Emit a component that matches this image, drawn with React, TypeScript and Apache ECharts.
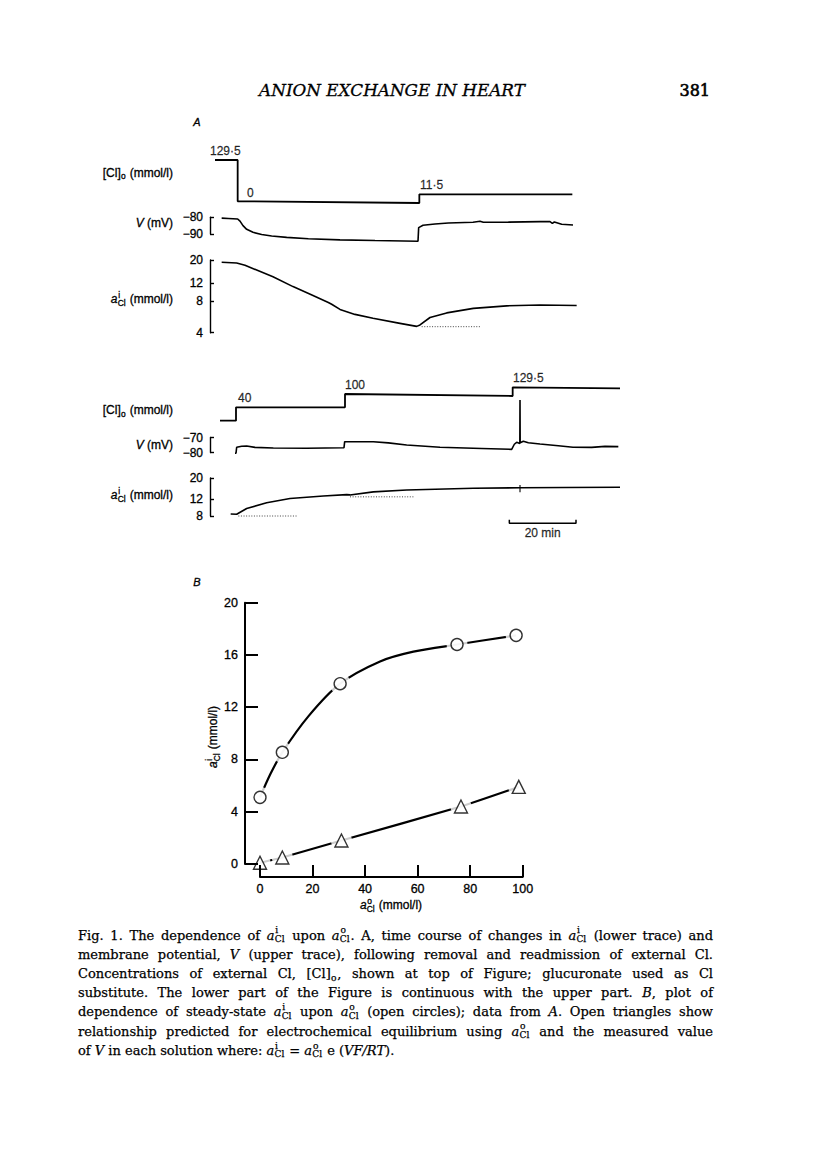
import React, { useEffect, useRef } from 'react';
import * as echarts from 'echarts';

const INK = '#000';
const SANS = "'Liberation Sans', Arial, Helvetica, sans-serif";
const SERIF = "'DejaVu Serif', 'Liberation Serif', serif";

// ---------- Panel A, upper part (x: time in min; Cl trace in recorder units) ----------
const clUpperTrace = [[0, 43], [6.8, 43], [6.8, 1.7], [61.3, 0], [61.3, 8.7], [107.2, 8.7]];
const clUpperLabels: [number, number, string][] = [[-1.5, 43, '129·5'], [9.6, 1.5, '0'], [61.5, 8.7, '11·5']];
const vUpper = [
  [2.0, -80.5], [4, -80.7], [6.8, -81.0], [7.5, -82.3], [8.4, -85.0], [9.5, -87.2], [11.4, -89.0],
  [14, -90.3], [17, -91.2], [21.5, -92.0], [28, -92.8], [37.5, -93.5], [48, -93.9], [60.9, -94.3],
  [61.1, -86.2], [62.4, -84.8], [66, -84.0], [70, -83.4], [77.4, -83.0], [79.5, -82.4], [80.5, -83.0],
  [88, -82.9], [97.5, -82.6], [100.5, -82.6], [101.2, -83.6], [101.8, -82.8], [104, -84.2], [107.4, -84.6],
];
const aiUpper = [
  [2.0, 19.0], [6.5, 18.7], [9, 17.8], [12.5, 16.0], [17.4, 13.8], [23.4, 11.1], [29.4, 9.1], [34.0, 7.8],
  [35, 7.5], [37.5, 6.7], [42, 6.0], [47.4, 5.5], [55.5, 4.92], [60.5, 4.6], [61.5, 4.75], [64.5, 5.6],
  [69.5, 6.2], [77.5, 6.85], [87.5, 7.25], [97.5, 7.38], [108.5, 7.3],
];
const aiUpperDotted = [[62, 4.57], [79.5, 4.57]];

// ---------- Panel A, lower part ----------
const clLowerTrace = [[1.5, 8.5], [6.3, 8.5], [6.3, 21.9], [39, 21.9], [39, 35.2], [89.3, 33.2], [89.3, 41.9], [121.5, 40.9]];
const clLowerLabels: [number, number, string][] = [[6.9, 21.9, '40'], [39, 35.2, '100'], [89.4, 41.9, '129·5']];
const vLower = [
  [6.0, -80.5], [6.3, -80.5], [6.5, -76.5], [8, -75.8], [9.5, -75.7], [12, -76.6], [17.5, -77.0], [27.5, -77.2],
  [38.7, -76.8], [38.9, -72.8], [47.5, -72.8], [52, -73.6], [57.5, -75.0], [67.5, -76.5], [80, -77.3], [89, -77.9],
  [89.8, -74.5], [90.5, -73.2], [91.45, -74.0], [91.5, -45], [91.55, -73.5], [92.5, -72.5], [94, -73.5],
  [97.5, -74.3], [103, -75.5], [107.4, -76.5], [113, -76.6], [117, -75.9], [121, -76.1],
];
const aiLower = [
  [4.7, 8.4], [6.5, 8.35], [9.5, 9.6], [15.5, 11.0], [22.5, 12.2], [32.5, 12.95], [39.5, 13.4], [40.5, 13.3],
  [47.5, 14.3], [57.5, 14.95], [77.5, 15.6], [91.5, 15.8], [105, 15.9], [121.5, 16.0],
];
const aiLowerMark = [[91.5, 16.9], [91.5, 14.2]];
const aiLowerDotted1 = [[7.0, 8.0], [24.7, 8.0]];
const aiLowerDotted2 = [[40.5, 12.7], [59.7, 12.7]];
const scaleBarStart = 88.3;
const scaleBarMinutes = 20;

// axis tick values
const vUpperRange = [-90, -80];
const vLowerRange = [-80, -70];
const aiUpperTicks = [4, 8, 12, 20];
const aiLowerTicks = [8, 12, 20];

// ---------- Panel B ----------
const circX = [0, 8.5, 30.5, 75, 97.5];
const circY = [5.1, 8.55, 13.8, 16.8, 17.5];
// hand-drawn curve through the circles, read along its length
const circCurveX = [0, 4, 8.5, 18.4, 30.5, 45.7, 58.4, 75, 97.5];
const circCurveY = [5.1, 6.9, 8.55, 11.3, 13.8, 15.5, 16.25, 16.8, 17.5];
const triX = [0, 8.5, 31, 76.5, 98.5];
const triY = [0.1, 0.5, 1.8, 4.4, 5.9];
const bXTicks = [0, 100, 20];
const bYTicks = [0, 20, 4];

type Seg = { t?: string; it?: boolean; sup?: string; sub?: string };
const AI: Seg[] = [{ t: 'a', it: true }, { sup: 'i', sub: 'Cl' }];
const AO: Seg[] = [{ t: 'a', it: true }, { sup: 'o', sub: 'Cl' }];

const captionLines: Seg[][] = [
  [{ t: 'Fig. 1. The dependence of ' }, ...AI, { t: ' upon ' }, ...AO, { t: '. A, time course of changes in ' }, ...AI, { t: ' (lower trace) and' }],
  [{ t: 'membrane potential, ' }, { t: 'V', it: true }, { t: ' (upper trace), following removal and readmission of external Cl.' }],
  [{ t: 'Concentrations of external Cl, [Cl]' }, { sub: 'o' }, { t: ', shown at top of Figure; glucuronate used as Cl' }],
  [{ t: 'substitute. The lower part of the Figure is continuous with the upper part. ' }, { t: 'B', it: true }, { t: ', plot of' }],
  [{ t: 'dependence of steady-state ' }, ...AI, { t: ' upon ' }, ...AO, { t: ' (open circles); data from ' }, { t: 'A', it: true }, { t: '. Open triangles show' }],
  [{ t: 'relationship predicted for electrochemical equilibrium using ' }, ...AO, { t: ' and the measured value' }],
  [{ t: 'of ' }, { t: 'V', it: true }, { t: ' in each solution where: ' }, ...AI, { t: ' = ' }, ...AO, { t: ' e (' }, { t: 'VF/RT', it: true }, { t: ').' }],
];

let ctx: CanvasRenderingContext2D | null = null;
function measure(text: string, size: number, family: string, italic: boolean, weight = 'normal') {
  if (!ctx) ctx = document.createElement('canvas').getContext('2d');
  ctx!.font = `${italic ? 'italic ' : ''}${weight} ${size}px ${family}`;
  return ctx!.measureText(text).width;
}

function inline(segs: Seg[], o: { x: number; y: number; align?: 'left' | 'right' | 'center'; family: string; size: number; justify?: number; weight?: string; stroke?: number }) {
  const size = o.size;
  const small = size * 0.7;
  const w = o.weight || 'normal';
  const toks: { parts: { text: string; dx: number; dy: number; size: number; it: boolean }[]; adv: number; space: boolean }[] = [];
  for (const s of segs) {
    if (s.t !== undefined) {
      for (const chunk of s.t.split(/( )/)) {
        if (!chunk) continue;
        if (chunk === ' ') toks.push({ parts: [], adv: measure(' ', size, o.family, !!s.it, w), space: true });
        else toks.push({ parts: [{ text: chunk, dx: 0, dy: 0, size, it: !!s.it }], adv: measure(chunk, size, o.family, !!s.it, w), space: false });
      }
    } else {
      const parts: any[] = [];
      let adv = 0;
      if (s.sup) { parts.push({ text: s.sup, dx: size * 0.06, dy: -size * 0.36, size: small, it: false }); adv = Math.max(adv, measure(s.sup, small, o.family, false, w)); }
      if (s.sub) { parts.push({ text: s.sub, dx: size * 0.02, dy: size * 0.32, size: small, it: false }); adv = Math.max(adv, measure(s.sub, small, o.family, false, w)); }
      toks.push({ parts, adv: adv + size * 0.08, space: false });
    }
  }
  const total = toks.reduce((a, t) => a + t.adv, 0);
  const nSpaces = toks.filter((t) => t.space).length;
  let extra = 0;
  let width = total;
  if (o.justify && nSpaces > 0) { extra = (o.justify - total) / nSpaces; width = o.justify; }
  let x = o.align === 'right' ? o.x - width : o.align === 'center' ? o.x - width / 2 : o.x;
  const els: any[] = [];
  for (const t of toks) {
    for (const p of t.parts) {
      els.push({
        type: 'text', x: x + p.dx, y: o.y + p.dy, silent: true,
        style: {
          text: p.text, fontSize: p.size, fontFamily: o.family, fontStyle: p.it ? 'italic' : 'normal', fontWeight: w,
          fill: INK, stroke: INK, lineWidth: o.stroke ?? 0.3,
          textAlign: 'left', align: 'left', textVerticalAlign: 'middle', verticalAlign: 'middle',
        },
      });
    }
    x += t.adv + (t.space ? extra : 0);
  }
  return els;
}

const log = (v: number) => Math.log10(v);
const logPts = (arr: number[][]) => arr.map(([t, v]) => [t, log(v)]);

export default function App() {
  const ref = useRef<HTMLDivElement>(null);
  useEffect(() => {
    if (!ref.current) return;
    const chart = echarts.init(ref.current, undefined, { renderer: 'svg' });

    const A_LEFT = 215;
    const A_W = 416.67;
    const grids = [
      { left: A_LEFT, width: A_W, top: 153, height: 50 },
      { left: A_LEFT, width: A_W, top: 217.3, height: 16.7 },
      { left: A_LEFT, width: A_W, top: 260, height: 72.7 },
      { left: A_LEFT, width: A_W, top: 379.2, height: 50 },
      { left: A_LEFT, width: A_W, top: 437.5, height: 15 },
      { left: A_LEFT, width: A_W, top: 478, height: 38 },
      { left: A_LEFT, width: A_W, top: 513.3, height: 10 },
      { left: 260, width: 262.7, top: 602.7, height: 261.3 },
    ];
    const hiddenX = (i: number) => ({ gridIndex: i, type: 'value', min: 0, max: 125, show: false });
    const hiddenY = (i: number, min: number, max: number) => ({ gridIndex: i, type: 'value', min, max, show: false });
    const lbl = { color: INK, fontFamily: SANS, fontSize: 12, textBorderColor: INK, textBorderWidth: 0.3 };
    const bracketAxis = (i: number, min: number, max: number, extra: any) => ({
      gridIndex: i, type: 'value', min, max, position: 'left', offset: 5, z: 5,
      axisLine: { show: true, onZero: false, lineStyle: { color: INK, width: 1.4 } },
      axisTick: { show: true, inside: true, length: 4, lineStyle: { color: INK, width: 1.4 } },
      splitLine: { show: false },
      ...extra,
    });
    const vFmt = (v: number) => (v < 0 ? '\u2212' + Math.abs(v) : String(v));
    const logFmt = (v: number) => String(Math.round(Math.pow(10, v)));

    const xAxes: any[] = [0, 1, 2, 3, 4, 5, 6].map(hiddenX);
    xAxes.push({
      gridIndex: 7, type: 'value', min: bXTicks[0], max: bXTicks[1], interval: bXTicks[2], position: 'bottom', offset: 13, z: 10,
      axisLine: { show: true, onZero: false, lineStyle: { color: INK, width: 2 } },
      axisTick: { show: true, inside: true, length: 12, lineStyle: { color: INK, width: 2 } },
      axisLabel: { ...lbl, fontSize: 12.5, margin: 5 },
      splitLine: { show: false },
    });
    const yAxes: any[] = [
      hiddenY(0, 0, 50),
      bracketAxis(1, vUpperRange[0], vUpperRange[1], { interval: 10, axisLabel: { ...lbl, margin: 7, formatter: vFmt } }),
      bracketAxis(2, log(aiUpperTicks[0]), log(aiUpperTicks[aiUpperTicks.length - 1]), {
        axisTick: { show: true, inside: true, length: 4, lineStyle: { color: INK, width: 1.4 }, customValues: aiUpperTicks.map(log) },
        axisLabel: { ...lbl, margin: 7, formatter: logFmt, customValues: aiUpperTicks.map(log) },
      }),
      hiddenY(3, 0, 50),
      bracketAxis(4, vLowerRange[0], vLowerRange[1], { interval: 10, axisLabel: { ...lbl, margin: 7, formatter: vFmt } }),
      bracketAxis(5, log(aiLowerTicks[0]), log(aiLowerTicks[aiLowerTicks.length - 1]), {
        axisTick: { show: true, inside: true, length: 4, lineStyle: { color: INK, width: 1.4 }, customValues: aiLowerTicks.map(log) },
        axisLabel: { ...lbl, margin: 7, formatter: logFmt, customValues: aiLowerTicks.map(log) },
      }),
      hiddenY(6, 0, 1),
      {
        gridIndex: 7, type: 'value', min: bYTicks[0], max: bYTicks[1], interval: bYTicks[2], position: 'left', offset: 15, z: 10,
        axisLine: { show: true, onZero: false, lineStyle: { color: INK, width: 2 } },
        axisTick: { show: true, inside: true, length: 13, lineStyle: { color: INK, width: 2 } },
        axisLabel: { ...lbl, fontSize: 12.5, margin: 7 },
        splitLine: { show: false },
      },
    ];

    const trace = (i: number, data: number[][], width = 1.6, extra: any = {}) => ({
      type: 'line', xAxisIndex: i, yAxisIndex: i, data, showSymbol: false, symbol: 'none', clip: false, silent: true, z: 2,
      lineStyle: { color: INK, width }, ...extra,
    });
    const dotted = (i: number, data: number[][]) => trace(i, data, 1, { lineStyle: { color: '#444', width: 1, type: [1, 1.6] } });
    const labelsSeries = (i: number, data: [number, number, string][]) => ({
      type: 'scatter', xAxisIndex: i, yAxisIndex: i, data, symbolSize: 0, clip: false, silent: true,
      label: { show: true, position: 'top', distance: 3, align: 'left', formatter: (p: any) => p.value[2], ...lbl },
    });

    const circPts = circX.map((x, k) => [x, circY[k]]);
    const circCurve = circCurveX.map((x, k) => [x, circCurveY[k]]);
    const triPts = triX.map((x, k) => [x, triY[k]]);

    const series: any[] = [
      trace(0, clUpperTrace, 1.8),
      labelsSeries(0, clUpperLabels),
      trace(1, vUpper),
      trace(2, logPts(aiUpper)),
      dotted(2, logPts(aiUpperDotted)),
      trace(3, clLowerTrace, 1.8),
      labelsSeries(3, clLowerLabels),
      trace(4, vLower),
      trace(5, logPts(aiLower)),
      trace(5, logPts(aiLowerMark), 1.1),
      dotted(5, logPts(aiLowerDotted1)),
      dotted(5, logPts(aiLowerDotted2)),
      trace(6, [[scaleBarStart, 0.35], [scaleBarStart, 0], [scaleBarStart + scaleBarMinutes, 0], [scaleBarStart + scaleBarMinutes, 0.35]], 1.5),
      {
        type: 'scatter', xAxisIndex: 6, yAxisIndex: 6, data: [[scaleBarStart + scaleBarMinutes / 2, 0]], symbolSize: 0, clip: false, silent: true,
        label: { show: true, position: 'bottom', distance: 4, formatter: `${scaleBarMinutes} min`, ...lbl },
      },
      trace(7, circCurve, 2.2, { smooth: 0.3 }),
      trace(7, triPts, 2.2, { smooth: 0.15 }),
      {
        type: 'scatter', xAxisIndex: 7, yAxisIndex: 7, data: [...circPts, ...triPts], symbol: 'circle', symbolSize: 21, z: 3,
        itemStyle: { color: '#fff' }, clip: false, silent: true,
      },
      {
        type: 'scatter', xAxisIndex: 7, yAxisIndex: 7, data: circPts, symbol: 'circle', symbolSize: 12, clip: false, silent: true, z: 4,
        itemStyle: { color: '#fff', borderColor: INK, borderWidth: 1.4 },
      },
      {
        type: 'scatter', xAxisIndex: 7, yAxisIndex: 7, data: triPts, symbol: 'triangle', symbolSize: 13, clip: false, silent: true, z: 4,
        itemStyle: { color: '#fff', borderColor: INK, borderWidth: 1.4 },
      },
    ];

    // ---------- text / graphic ----------
    const g: any[] = [];
    const tstyle = (extra: any) => ({ fill: INK, stroke: INK, lineWidth: 0.3, textVerticalAlign: 'middle', verticalAlign: 'middle', ...extra });
    const headerText = 'ANION EXCHANGE IN HEART';
    const hSize = 15 * 266 / measure(headerText, 15, SERIF, true);
    g.push({ type: 'text', x: 392, y: 90, silent: true, style: tstyle({ text: headerText, fontSize: hSize, fontFamily: SERIF, fontStyle: 'italic', textAlign: 'center', align: 'center' }) });
    g.push({ type: 'text', x: 710, y: 90, silent: true, style: tstyle({ text: '381', fontSize: 16, fontFamily: SERIF, lineWidth: 0.6, textAlign: 'right', align: 'right' }) });
    g.push({ type: 'text', x: 197, y: 122, silent: true, style: tstyle({ text: 'A', fontSize: 11, fontFamily: SANS, fontStyle: 'italic', textAlign: 'center', align: 'center' }) });
    g.push({ type: 'text', x: 197, y: 582, silent: true, style: tstyle({ text: 'B', fontSize: 11, fontFamily: SANS, fontStyle: 'italic', textAlign: 'center', align: 'center' }) });

    const clLab: Seg[] = [{ t: '[Cl]' }, { sub: 'o' }, { t: ' (mmol/l)' }];
    const vLab: Seg[] = [{ t: 'V', it: true }, { t: ' (mV)' }];
    const aiLab: Seg[] = [...AI, { t: ' (mmol/l)' }];
    const sansOpt = { family: SANS, size: 12, align: 'right' as const, x: 173 };
    g.push(...inline(clLab, { ...sansOpt, y: 172.5 }));
    g.push(...inline(vLab, { ...sansOpt, y: 223 }));
    g.push(...inline(aiLab, { ...sansOpt, y: 299 }));
    g.push(...inline(clLab, { ...sansOpt, y: 410 }));
    g.push(...inline(vLab, { ...sansOpt, y: 445 }));
    g.push(...inline(aiLab, { ...sansOpt, y: 495 }));

    // panel B axis titles
    g.push(...inline([...AO, { t: ' (mmol/l)' }], { family: SANS, size: 12, align: 'center', x: 391, y: 905 }));
    g.push({ type: 'group', x: 213, y: 737, rotation: Math.PI / 2, children: inline([...AI, { t: ' (mmol/l)' }], { family: SANS, size: 12, align: 'center', x: 0, y: 0 }) });

    // caption
    const capX = 78, capW = 635, capY0 = 935, capDY = 19.2;
    captionLines.forEach((line, k) => {
      g.push(...inline(line, { family: SERIF, size: 13, x: capX, y: capY0 + k * capDY, align: 'left', stroke: 0.25, justify: k < captionLines.length - 1 ? capW : undefined }));
    });

    chart.setOption({
      animation: false,
      backgroundColor: '#fff',
      textStyle: { fontFamily: SANS, color: INK },
      grid: grids,
      xAxis: xAxes,
      yAxis: yAxes,
      series,
      graphic: { elements: g },
    });
    return () => chart.dispose();
  }, []);
  return <div ref={ref} style={{ position: 'absolute', left: 0, top: 0, width: 816, height: 1163, background: '#fff' }} />;
}
